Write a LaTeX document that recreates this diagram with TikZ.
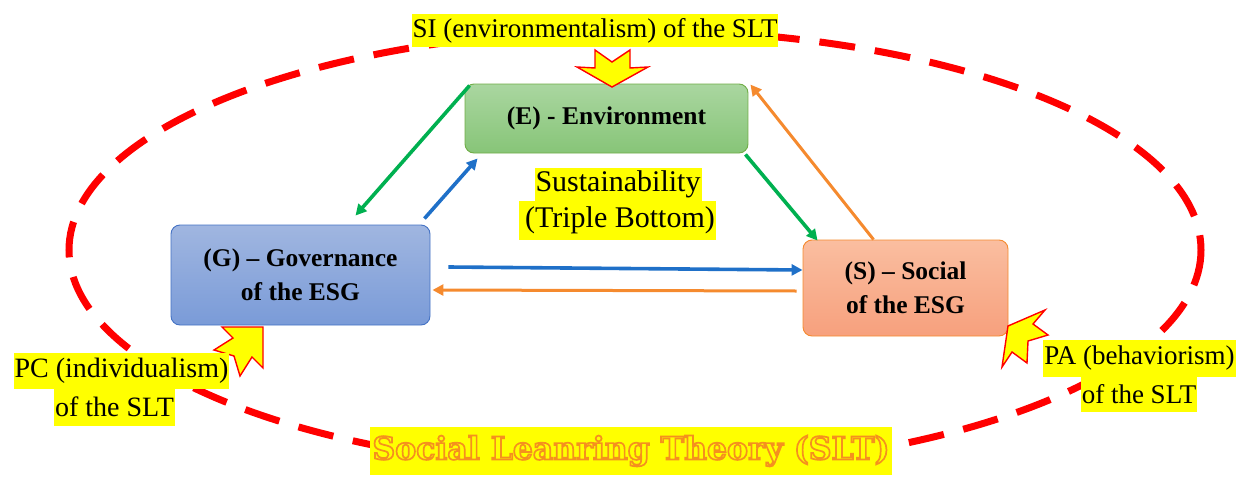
\documentclass[tikz,border=0pt]{standalone}
\usepackage{fontspec}
\setmainfont{Liberation Serif}
\newfontfamily\titlefont{DejaVu Serif}
\usetikzlibrary{arrows.meta,calc}
\definecolor{egreen}{HTML}{00B050}
\definecolor{eblue}{HTML}{1F70C8}
\definecolor{eorange}{HTML}{F58A2E}
\definecolor{ered}{HTML}{FF0000}
\definecolor{hyellow}{HTML}{FFFF00}
\definecolor{titleor}{HTML}{F5901E}
\newcommand{\outlinetxt}[1]{\special{pdf:literal direct 1 Tr 1.7 w}#1\special{pdf:literal direct 0 Tr}}
\tikzset{
  box/.style={rounded corners=9pt, line width=0.9pt, align=center,
    font=\fontsize{25.5}{34}\selectfont\bfseries, inner sep=0pt},
  ebox/.style={box, draw={rgb,255:red,112;green,173;blue,71}, top color={rgb,255:red,170;green,214;blue,160}, bottom color={rgb,255:red,135;green,197;blue,120}},
  gbox/.style={box, draw={rgb,255:red,68;green,114;blue,196}, top color={rgb,255:red,160;green,182;blue,224}, bottom color={rgb,255:red,122;green,155;blue,216}},
  sbox/.style={box, draw=eorange, top color={rgb,255:red,250;green,190;blue,160}, bottom color={rgb,255:red,247;green,160;blue,125}},
  hl/.style={fill=hyellow, inner xsep=1pt, inner ysep=0pt, minimum height=34pt,
    font=\fontsize{27}{30}\selectfont},
  conn/.style={line width=3.6pt, -{Triangle[length=11pt,width=11pt]}},
  starrow/.style={fill=hyellow, draw=ered, line width=1.4pt, line join=miter}
}
\begin{document}
\begin{tikzpicture}[x=1pt,y=-1pt]
\useasboundingbox (0,0) rectangle (1243,477);
% dashed ellipse
\draw[ered, line width=7pt, dash pattern=on 36pt off 20pt] (635,250) ellipse [x radius=566, y radius=220];
% boxes
\node[ebox, minimum width=283pt, minimum height=69pt] (E) at (606.5,118.5) {(E) - Environment};
\node[gbox, minimum width=259pt, minimum height=100pt] (G) at (300.5,275) {(G) -- Governance\\of the ESG};
\node[sbox, minimum width=205pt, minimum height=96pt] (S) at (905.5,288) {(S) -- Social\\of the ESG};
% connectors
\draw[conn, egreen] ([shift={(5,2)}]E.north west) -- ([shift={(55,-9)}]G.north);
\draw[conn, eblue] ([shift={(-6,-6)}]G.north east) -- ([shift={(13,5)}]E.south west);
\draw[conn, egreen] ([shift={(-3,1)}]E.south east) -- ([shift={(15,1)}]S.north west);
\draw[eorange, line width=3pt, -{Triangle[length=11pt,width=11pt]}] ([shift={(71,0)}]S.north west) -- ([shift={(2,1)}]E.north east);
\draw[conn, eblue] ([shift={(18,-8)}]G.east) -- ([shift={(0,-18)}]S.west);
\draw[conn, eorange, line width=3pt] ([shift={(-6,3)}]S.west) -- ([shift={(2,15)}]G.east);
% yellow star arrows
\begin{scope}[shift={(612,87)}]
\draw[starrow] (-17,-37) -- (0,-25) -- (18,-37) -- (18,-19) -- (36,-20) -- (0,0) -- (-35,-20) -- (-17,-19) -- cycle;
\end{scope}
\draw[starrow] (263,327) -- (263,368) -- (252,357) -- (240,376) -- (234,356) -- (214,350) -- (233,338) -- (222,327) -- cycle;
\draw[starrow] (1048,335) -- (1028,341) -- (1027,363) -- (1012,352) -- (1002,367) -- (1008,326) -- (1045,310) -- (1033,324) -- cycle;
% sustainability labels
\node[hl, font=\fontsize{30}{33}\selectfont, minimum height=33pt] (sus1) at (618,184.5) {Sustainability};
\node[hl, font=\fontsize{30}{33}\selectfont, minimum height=39pt] (sus2) at (617.5,220.5) {\,(Triple Bottom)};
% SI label
\node[hl, minimum height=33pt] (si) at (595,30.5) {SI (environmentalism) of the SLT};
% PC label
\node[hl, font=\fontsize{28}{30}\selectfont, minimum height=36pt] (pc1) at (121.5,371) {PC (individualism)};
\node[hl, font=\fontsize{28}{30}\selectfont, minimum height=37pt] (pc2) at (114.5,407) {of the SLT};
% PA label
\node[hl, minimum height=37pt] (pa1) at (1139.5,358.5) {PA (behaviorism)};
\node[hl, minimum height=35pt] (pa2) at (1139,394.5) {of the SLT};
% title
\node[fill=hyellow, inner xsep=2pt, inner ysep=0pt, minimum height=48pt, text=titleor,
  font=\fontsize{31.5}{36}\titlefont\bfseries] (title) at (631,451) {\outlinetxt{Social Leanring Theory (SLT)}};
\end{tikzpicture}
\end{document}
